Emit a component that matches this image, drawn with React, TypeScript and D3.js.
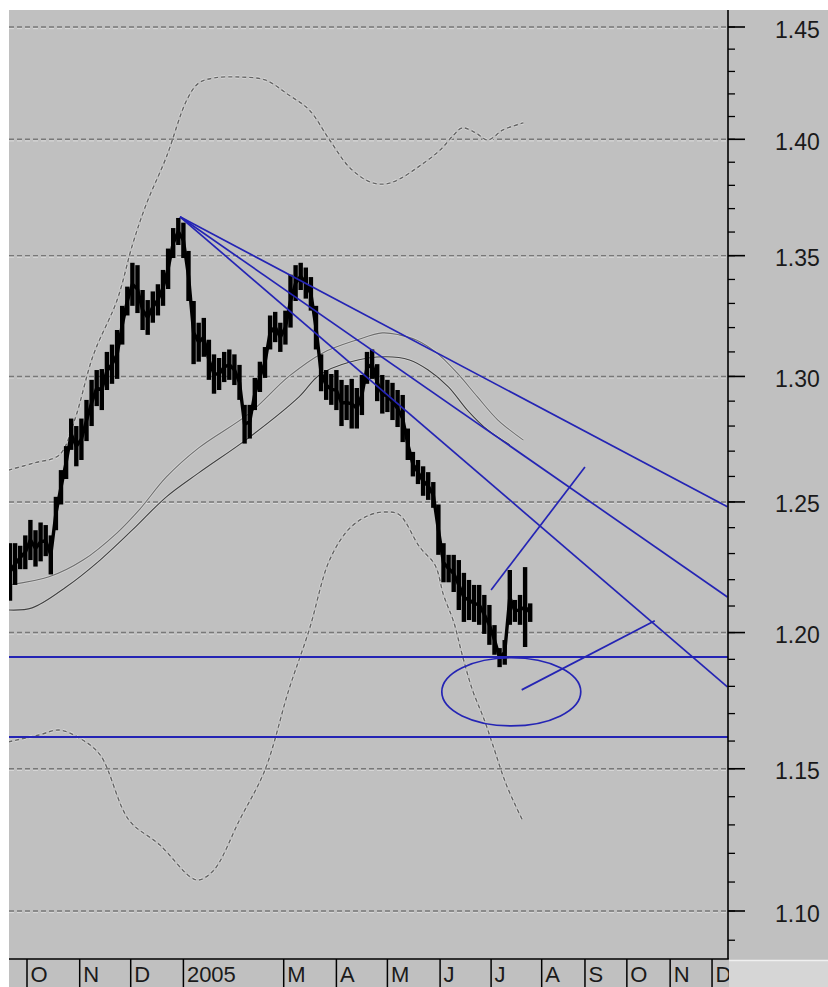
import React from 'react';
import * as d3 from 'd3';

const parse = d3.timeParse('%Y-%m-%d');

// price readings: date, high, low (every third day)
const priceBars: [string, number, number][] = [
  ['2004-09-21', 1.234, 1.212], ['2004-09-24', 1.234, 1.218], ['2004-09-27', 1.233, 1.224],
  ['2004-09-30', 1.237, 1.224], ['2004-10-03', 1.243, 1.2275], ['2004-10-06', 1.239, 1.225],
  ['2004-10-09', 1.242, 1.227], ['2004-10-12', 1.241, 1.229], ['2004-10-15', 1.237, 1.222],
  ['2004-10-18', 1.252, 1.239], ['2004-10-21', 1.2625, 1.249], ['2004-10-24', 1.272, 1.259],
  ['2004-10-27', 1.283, 1.2705], ['2004-10-30', 1.28, 1.264], ['2004-11-02', 1.283, 1.2665],
  ['2004-11-05', 1.2905, 1.274], ['2004-11-08', 1.2986, 1.28], ['2004-11-11', 1.3026, 1.288],
  ['2004-11-14', 1.303, 1.2864], ['2004-11-17', 1.31, 1.2945], ['2004-11-20', 1.313, 1.297],
  ['2004-11-23', 1.319, 1.299], ['2004-11-26', 1.329, 1.313], ['2004-11-29', 1.337, 1.325],
  ['2004-12-02', 1.347, 1.329], ['2004-12-05', 1.346, 1.326], ['2004-12-08', 1.3356, 1.319],
  ['2004-12-11', 1.3314, 1.317], ['2004-12-14', 1.335, 1.322], ['2004-12-17', 1.338, 1.325],
  ['2004-12-20', 1.344, 1.329], ['2004-12-23', 1.353, 1.336], ['2004-12-26', 1.3617, 1.349],
  ['2004-12-29', 1.366, 1.3545], ['2005-01-01', 1.364, 1.349], ['2005-01-04', 1.352, 1.331],
  ['2005-01-07', 1.331, 1.305], ['2005-01-10', 1.322, 1.306], ['2005-01-13', 1.324, 1.308],
  ['2005-01-16', 1.315, 1.2986], ['2005-01-19', 1.309, 1.293], ['2005-01-22', 1.3075, 1.2945],
  ['2005-01-25', 1.31, 1.2977], ['2005-01-28', 1.311, 1.2986], ['2005-01-31', 1.309, 1.2965],
  ['2005-02-03', 1.3047, 1.2905], ['2005-02-06', 1.2885, 1.273], ['2005-02-09', 1.2885, 1.275],
  ['2005-02-12', 1.2994, 1.2864], ['2005-02-15', 1.306, 1.2937], ['2005-02-18', 1.312, 1.2994],
  ['2005-02-21', 1.325, 1.311], ['2005-02-24', 1.3265, 1.314], ['2005-02-27', 1.322, 1.31],
  ['2005-03-02', 1.327, 1.313], ['2005-03-05', 1.342, 1.32], ['2005-03-08', 1.346, 1.331],
  ['2005-03-11', 1.347, 1.3356], ['2005-03-14', 1.345, 1.332], ['2005-03-17', 1.341, 1.327],
  ['2005-03-20', 1.329, 1.311], ['2005-03-23', 1.309, 1.294], ['2005-03-26', 1.3026, 1.2905],
  ['2005-03-29', 1.301, 1.2885], ['2005-04-01', 1.3026, 1.2864], ['2005-04-04', 1.2986, 1.28],
  ['2005-04-07', 1.2965, 1.2824], ['2005-04-10', 1.299, 1.279], ['2005-04-13', 1.2953, 1.279],
  ['2005-04-16', 1.3006, 1.2844], ['2005-04-19', 1.31, 1.297], ['2005-04-22', 1.311, 1.299],
  ['2005-04-25', 1.305, 1.29], ['2005-04-28', 1.3006, 1.285], ['2005-05-01', 1.2986, 1.2856],
  ['2005-05-04', 1.2974, 1.2824], ['2005-05-07', 1.2945, 1.2796], ['2005-05-10', 1.2925, 1.2736],
  ['2005-05-13', 1.279, 1.2665], ['2005-05-16', 1.2697, 1.26], ['2005-05-19', 1.2665, 1.257],
  ['2005-05-22', 1.264, 1.2524], ['2005-05-25', 1.2617, 1.2508], ['2005-05-28', 1.2578, 1.2477],
  ['2005-05-31', 1.249, 1.2295], ['2005-06-03', 1.234, 1.219], ['2005-06-06', 1.2295, 1.219],
  ['2005-06-09', 1.2295, 1.2153], ['2005-06-12', 1.2275, 1.2085], ['2005-06-15', 1.2226, 1.204],
  ['2005-06-18', 1.2199, 1.2047], ['2005-06-21', 1.218, 1.204], ['2005-06-24', 1.218, 1.2029],
  ['2005-06-27', 1.2142, 1.1995], ['2005-06-30', 1.2104, 1.1954], ['2005-07-03', 1.2028, 1.1917],
  ['2005-07-06', 1.1942, 1.1871], ['2005-07-09', 1.1972, 1.188], ['2005-07-12', 1.2237, 1.2029],
  ['2005-07-15', 1.2123, 1.204], ['2005-07-18', 1.2142, 1.2029], ['2005-07-21', 1.2248, 1.1946],
  ['2005-07-24', 1.211, 1.204],
];

// moving averages
const maFast: [string, number][] = [
  ['2004-09-20', 1.218], ['2004-10-14', 1.2211], ['2004-11-03', 1.2275], ['2004-11-23', 1.238],
  ['2004-12-06', 1.2469], ['2004-12-22', 1.2598], ['2005-01-10', 1.2713], ['2005-02-09', 1.2852],
  ['2005-03-04', 1.3], ['2005-03-24', 1.3096], ['2005-04-13', 1.3149], ['2005-04-28', 1.3178],
  ['2005-05-08', 1.317], ['2005-05-18', 1.3149], ['2005-05-30', 1.3096], ['2005-06-11', 1.3014],
  ['2005-06-23', 1.2917], ['2005-07-05', 1.2824], ['2005-07-20', 1.2744],
];
const maSlow: [string, number][] = [
  ['2004-09-20', 1.2085], ['2004-10-04', 1.2093], ['2004-10-24', 1.2172], ['2004-11-13', 1.2275],
  ['2004-12-02', 1.2391], ['2004-12-22', 1.252], ['2005-01-10', 1.2614], ['2005-02-09', 1.2756],
  ['2005-03-10', 1.2917], ['2005-03-22', 1.3006], ['2005-04-09', 1.3059], ['2005-04-30', 1.308],
  ['2005-05-14', 1.3067], ['2005-05-25', 1.3026], ['2005-06-06', 1.2957], ['2005-06-17', 1.2864],
  ['2005-06-29', 1.2784], ['2005-07-12', 1.2725],
];

// envelope bands (dashed)
const bandUpper: [string, number][] = [
  ['2004-09-20', 1.2625], ['2004-10-05', 1.2653], ['2004-10-20', 1.2685], ['2004-10-29', 1.2824],
  ['2004-11-09', 1.3087], ['2004-11-23', 1.3314], ['2004-12-02', 1.3545], ['2004-12-10', 1.3716],
  ['2004-12-22', 1.3923], ['2005-01-03', 1.4173], ['2005-01-10', 1.4248], ['2005-01-19', 1.4271],
  ['2005-02-03', 1.4275], ['2005-02-18', 1.4262], ['2005-03-04', 1.4195], ['2005-03-16', 1.4129],
  ['2005-03-28', 1.3997], ['2005-04-09', 1.3875], ['2005-04-21', 1.3814], ['2005-04-30', 1.3806],
  ['2005-05-08', 1.3827], ['2005-05-20', 1.3884], ['2005-06-01', 1.3953], ['2005-06-09', 1.4019],
  ['2005-06-14', 1.405], ['2005-06-22', 1.4028], ['2005-06-29', 1.3997], ['2005-07-08', 1.4041],
  ['2005-07-20', 1.4072],
];
const bandLower: [string, number][] = [
  ['2004-09-20', 1.1597], ['2004-10-08', 1.1622], ['2004-10-20', 1.164], ['2004-11-01', 1.161],
  ['2004-11-13', 1.155], ['2004-11-30', 1.1317], ['2004-12-18', 1.123], ['2005-01-05', 1.1118],
  ['2005-01-10', 1.1107], ['2005-01-19', 1.1142], ['2005-02-03', 1.1317], ['2005-02-18', 1.1496],
  ['2005-03-04', 1.1787], ['2005-03-16', 1.201], ['2005-03-28', 1.2275], ['2005-04-09', 1.2399],
  ['2005-04-21', 1.245], ['2005-04-30', 1.2461], ['2005-05-08', 1.245], ['2005-05-20', 1.2325],
  ['2005-05-29', 1.2256], ['2005-06-03', 1.2142], ['2005-06-09', 1.204], ['2005-06-14', 1.1917],
  ['2005-06-20', 1.1787], ['2005-06-27', 1.1677], ['2005-07-02', 1.1586], ['2005-07-10', 1.1442],
  ['2005-07-20', 1.131],
];

// drawn objects
const fanStart: [string, number] = ['2004-12-30', 1.3665];
const fanEndDate = '2005-12-12';
const fanEndValues = [1.2481, 1.2134, 1.1798];
const supportLevels = [1.1909, 1.1615];
const strokes: [[string, number], [string, number]][] = [
  [['2005-07-01', 1.2161], ['2005-09-01', 1.2637]],
  [['2005-07-19', 1.1787], ['2005-10-21', 1.2044]],
];
const ellipseDates: [string, string] = ['2005-06-02', '2005-08-29'];
const ellipseValues: [number, number] = [1.1655, 1.1906];

const majorTicks = [1.1, 1.15, 1.2, 1.25, 1.3, 1.35, 1.4, 1.45];
const minorTicks = d3.range(109, 146).map((v) => v / 100);
const monthTicks: [string, string][] = [
  ['2004-10-01', 'O'], ['2004-11-01', 'N'], ['2004-12-01', 'D'], ['2005-01-01', '2005'],
  ['2005-02-01', ''], ['2005-03-01', 'M'], ['2005-04-01', 'A'], ['2005-05-01', 'M'],
  ['2005-06-01', 'J'], ['2005-07-01', 'J'], ['2005-08-01', 'A'], ['2005-09-01', 'S'],
  ['2005-10-01', 'O'], ['2005-11-01', 'N'], ['2005-12-01', 'D'],
];

const W = 828;
const H = 987;
const left = 9;
const top = 10;
const right = 728;
const bottom = 959;
const BLUE = '#2424b4';
const FONT = '"Liberation Sans", Arial, sans-serif';

const App: React.FC = () => {
  const x = d3
    .scaleTime()
    .domain([parse('2004-09-20')!, parse('2005-07-25')!, parse('2005-12-12')!])
    .range([8.3, 531.9, 727.4]);
  const y = d3.scaleLog().domain([1.1, 1.45]).range([911, 27]);

  const line = d3
    .line<[string, number]>()
    .x((d) => x(parse(d[0])!))
    .y((d) => y(d[1]))
    .curve(d3.curveCatmullRom);

  const midLine = d3
    .line<[string, number, number]>()
    .x((d) => x(parse(d[0])!))
    .y((d) => (y(d[1]) + y(d[2])) / 2);

  const ex1 = x(parse(ellipseDates[0])!);
  const ex2 = x(parse(ellipseDates[1])!);
  const ey1 = y(ellipseValues[1]);
  const ey2 = y(ellipseValues[0]);

  const fx = x(parse(fanStart[0])!);
  const fy = y(fanStart[1]);
  const fxEnd = x(parse(fanEndDate)!);

  return (
    <svg
      width={W}
      height={H}
      style={{ position: 'absolute', left: 0, top: 0, background: '#fff' }}
    >
      <defs>
        <clipPath id="plot">
          <rect x={left} y={top} width={right - left} height={bottom - top} />
        </clipPath>
        <clipPath id="labels">
          <rect x={left} y={bottom} width={right - left + 1} height={H - bottom} />
        </clipPath>
      </defs>

      <rect x={left} y={top} width={W - left} height={H - top} fill="#c0c0c0" />
      <rect x={right + 1} y={bottom + 1} width={W - right} height={H - bottom} fill="#d6d6d6" />
      <line x1={right + 1} x2={W} y1={bottom + 1.5} y2={bottom + 1.5} stroke="#f0f0f0" strokeWidth={1.5} />

      <g clipPath="url(#plot)">
        {/* gridlines */}
        {majorTicks.map((t) => (
          <g key={t}>
            <line x1={left} x2={right} y1={y(t) + 1.6} y2={y(t) + 1.6} stroke="#dadada" strokeWidth={1} strokeDasharray="5,3" />
            <line x1={left} x2={right} y1={y(t)} y2={y(t)} stroke="#787878" strokeWidth={1.4} strokeDasharray="5,3" />
          </g>
        ))}

        {/* dashed envelope */}
        {[bandUpper, bandLower].map((b, i) => (
          <g key={i}>
            <path d={line(b)!} fill="none" stroke="#d8d8d8" strokeWidth={3.2} strokeDasharray="4,3" />
            <path d={line(b)!} fill="none" stroke="#646464" strokeWidth={1.4} strokeDasharray="4,3" />
          </g>
        ))}

        {/* moving averages */}
        <path d={line(maFast)!} fill="none" stroke="#d2d2d2" strokeWidth={2.6} />
        <path d={line(maSlow)!} fill="none" stroke="#d2d2d2" strokeWidth={2.6} />
        <path d={line(maFast)!} fill="none" stroke="#6e6e6e" strokeWidth={1.1} />
        <path d={line(maSlow)!} fill="none" stroke="#404040" strokeWidth={1.1} />

        {/* price */}
        <path d={midLine(priceBars)!} fill="none" stroke="#000" strokeWidth={3.4} strokeLinejoin="round" />
        {priceBars.map((d) => {
          const px = x(parse(d[0])!);
          return (
            <line key={d[0]} x1={px} x2={px} y1={y(d[1])} y2={y(d[2])} stroke="#000" strokeWidth={4.4} />
          );
        })}

        {/* trend fan */}
        {fanEndValues.map((v) => (
          <line key={v} x1={fx} y1={fy} x2={fxEnd} y2={y(v)} stroke={BLUE} strokeWidth={1.7} />
        ))}
        {supportLevels.map((v) => (
          <line key={v} x1={left} x2={right} y1={y(v)} y2={y(v)} stroke={BLUE} strokeWidth={2} />
        ))}
        {strokes.map((s, i) => (
          <line
            key={i}
            x1={x(parse(s[0][0])!)}
            y1={y(s[0][1])}
            x2={x(parse(s[1][0])!)}
            y2={y(s[1][1])}
            stroke={BLUE}
            strokeWidth={1.7}
          />
        ))}
        <ellipse
          cx={(ex1 + ex2) / 2}
          cy={(ey1 + ey2) / 2}
          rx={(ex2 - ex1) / 2}
          ry={(ey2 - ey1) / 2}
          fill="none"
          stroke={BLUE}
          strokeWidth={1.7}
        />
      </g>

      {/* right axis */}
      <line x1={right} x2={right} y1={top} y2={bottom} stroke="#000" strokeWidth={1.6} />
      {minorTicks.map((t) => (
        <line key={t} x1={right} x2={right + 7} y1={y(t)} y2={y(t)} stroke="#000" strokeWidth={1.3} />
      ))}
      {majorTicks.map((t) => (
        <g key={t}>
          <line x1={right} x2={right + 17} y1={y(t)} y2={y(t)} stroke="#000" strokeWidth={1.6} />
          <text x={775} y={y(t) + 10.5} fontFamily={FONT} fontSize={23} fill="#1a1a1a">
            {d3.format('.2f')(t)}
          </text>
        </g>
      ))}

      {/* bottom axis */}
      <line x1={left} x2={right + 0.8} y1={bottom} y2={bottom} stroke="#000" strokeWidth={1.6} />
      <g clipPath="url(#labels)">
        {monthTicks.map(([d, label]) => {
          const mx = x(parse(d)!);
          return label ? (
            <g key={d}>
              <line x1={mx} x2={mx} y1={bottom} y2={H} stroke="#000" strokeWidth={1.5} />
              <text x={mx + 3.5} y={982} fontFamily={FONT} fontSize={22} fill="#1a1a1a">
                {label}
              </text>
            </g>
          ) : (
            <line key={d} x1={mx} x2={mx} y1={bottom - 3} y2={bottom} stroke="#000" strokeWidth={1.5} />
          );
        })}
      </g>
    </svg>
  );
};

export default App;
